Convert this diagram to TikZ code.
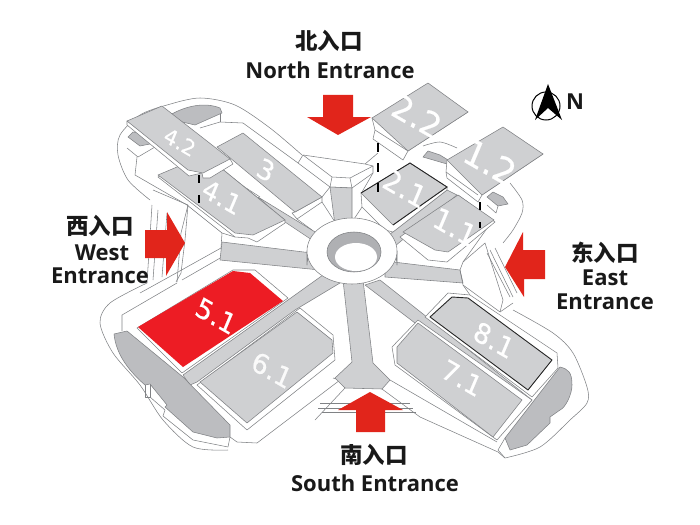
\documentclass[tikz,border=0pt]{standalone}
\usepackage{fontspec}
\setmainfont{Open Sans}
\newfontfamily\cjk{Noto Sans CJK SC}
\newfontfamily\numfont[FakeBold=0.5]{DejaVu Sans}
\definecolor{hallgray}{HTML}{CFD0D2}
\definecolor{wingray}{HTML}{BCBDC0}
\definecolor{ringray}{HTML}{AFB0B3}
\definecolor{edgegray}{HTML}{808285}
\definecolor{arrowred}{HTML}{E1251B}
\definecolor{hallred}{HTML}{ED1C24}
\tikzset{
  wall/.style    = {draw=edgegray, line width=0.55pt, line join=round},
  road/.style    = {wall, fill=hallgray},
  plinth/.style  = {wall, fill=white},
  hall/.style    = {wall, fill=hallgray},
  wing/.style    = {wall, fill=wingray},
  post/.style    = {line width=1.8pt, black},
  entry/.style   = {fill=arrowred},
  gate/.style    = {font=\cjk\bfseries\fontsize{22.5}{22.5}\selectfont, text=black!90, inner sep=0pt},
  gatename/.style= {font=\bfseries\fontsize{22}{22}\selectfont, text=black!90, inner sep=0pt},
  hallno/.style  = {font=\numfont\fontsize{#1}{#1}\selectfont, text=white, inner sep=0pt, rotate=-23, yslant=-0.12},
  hallno/.default= 28
}
\begin{document}
\begin{tikzpicture}[x=1pt,y=-1pt]
  \useasboundingbox (0,0) rectangle (700,524);
  % outer outline
  \draw[wall] plot[smooth] coordinates {(150,200) (128,180) (118,155) (120,135) (140,115) (167,105) (200,98) (235,105) (270,128) (302,155)};
  \draw[wall] plot[smooth] coordinates {(147,283) (110,303) (100,323) (113,353) (140,385) (163,420) (193,447) (228,450)};
  \draw[wall] plot[smooth] coordinates {(505,458) (540,447) (570,420) (587,403) (587,387) (573,353) (553,333) (513,310)};
  \draw[wall] plot[smooth] coordinates {(423,146) (440,142) (457,148)};
  \draw[wall] plot[smooth] coordinates {(510,183) (522,200) (522,213) (513,230) (503,243)};
  % north west side
  \draw[wall] (137,157) -- (135,175) -- (187,205) -- (222,233) -- (235,237);
  \draw[wall] (222,233) -- (221,248) -- (178,272) -- (140,293);
  \draw[wall] (127,148) -- (138,157) -- (155,147);
  \draw[wall] (200,128) -- (220,122) -- (243,123) -- (298,163);
  \draw[wall] (220,113) -- (220,122);
  \draw[wall] (153,190) -- (188,205);
  \draw[wall] (182,280) -- (222,257) -- (221,248);
  % west stripes
  \draw[wall] (152,205) -- (147,283);
  \draw[wall] (158,210) -- (153,280);
  \draw[wall] (167,213) -- (162,277);
  \draw[wall] (188,205) -- (181,233) -- (177,282);
  \draw[wall] (188,205) -- (185,240) -- (181,273) -- (176,282);
  % south west side
  \draw[wall] (177,283) -- (122,315) -- (122,331);
  \draw[wall] (145,385) -- (145,397) -- (150,397) -- (150,384);
  \draw[wall] (150,397) -- (165,410) -- (163,416) -- (193,440) -- (228,447) -- (230,437);
  \draw[wall] (230,437) -- (237,442) -- (257,443) -- (340,380) -- (333,378);
  \draw[wall] (340,380) -- (345,388);
  % north plaza
  \draw[wall] (303,155) -- (365,164) -- (373,166) -- (373,173) -- (352,188) -- (330,187) -- (298,163) -- cycle;
  \draw[wall] (303,155) -- (332,177) -- (350,178) -- (373,166);
  \draw[wall] (332,177) -- (330,187);
  \draw[wall] (350,178) -- (352,188);
  \draw[wall] (365,164) -- (378,153);
  \draw[wall] (373,173) -- (362,192);
  \draw[wall] (362,207) -- (352,222);
  \draw[wall] (330,187) -- (322,197);
  \draw[wall] (322,202) -- (335,222);
  \path[road] (330,187) -- (352,188) -- (352,225) -- (335,225) -- cycle;
  % south plaza
  \draw[wall] (320,403) -- (410,403);
  \draw[wall] (318,408) -- (413,408);
  \draw[wall] (322,412) -- (416,412);
  \draw[wall] (345,388) -- (315,420);
  \draw[wall] (382,389) -- (420,417) -- (498,452) -- (505,458);
  \draw[wall] (390,380) -- (497,442);
  \path[road] (343,280) -- (363,280) -- (373,363) -- (390,380) -- (382,389) -- (345,388) -- (335,378) -- (352,362) -- cycle;
  % east side
  \path[road] (385,261) -- (460,270) -- (463,283) -- (385,277) -- cycle;
  \draw[wall] (460,270) -- (463,262) -- (485,243) -- (503,300) -- (500,312) -- (463,285) -- (460,270);
  \draw[wall] (493,220) -- (463,262);
  \draw[wall] (487,253) -- (510,297);
  \draw[wall] (490,250) -- (513,297);
  \draw[wall] (495,248) -- (517,293);
  \draw[wall] (500,312) -- (513,303);
  \draw[wall] (463,285) -- (470,295);
  % west road and strips
  \path[road] (222,242) -- (320,254) -- (320,270) -- (220,260) -- cycle;
  \path[road] (258,197) -- (320,235) -- (315,242) -- (285,222) -- cycle;
  \draw[wall] (223,173) -- (260,197);
  \path[road] (183,375) -- (330,270) -- (345,280) -- (295,310) -- (197,382) -- (190,385) -- cycle;
  \path[road] (365,285) -- (380,280) -- (532,400) -- (523,410) -- (415,323) -- cycle;
  \path[road] (385,238) -- (447,190) -- (457,195) -- (395,246) -- cycle;
  % hall 5.1 and 6.1
  \path[plinth] (137,328) -- (182,373) -- (288,298) -- (255,270) -- (233,270) -- cycle;
  \path[fill=hallred] (138,327) -- (233,271) -- (250,273) -- (283,301) -- (183,367) -- cycle;
  \path[plinth] (197,385) -- (247,430) -- (335,360) -- (333,335) -- (300,308) -- cycle;
  \path[hall] (200,382) -- (297,312) -- (332,340) -- (333,353) -- (247,423) -- cycle;
  % hall 7.1 and 8.1
  \path[plinth] (392,347) -- (418,320) -- (532,400) -- (497,440) -- (395,365) -- cycle;
  \path[hall] (397,347) -- (418,323) -- (522,400) -- (493,437) -- (397,363) -- cycle;
  \path[plinth] (425,317) -- (448,293) -- (470,295) -- (557,353) -- (558,368) -- (532,397) -- cycle;
  \path[hall, draw=black!85, line width=0.9pt] (430,317) -- (452,297) -- (468,298) -- (552,360) -- (528,390) -- cycle;
  % wings
  \path[wing] (114,334) -- (127,331) -- (183,377) -- (230,425) -- (230,437) -- (217,438) -- (193,432) -- (165,407) -- (167,405) -- (150,384) -- (145,385) .. controls (130,372) and (116,355) .. (114,334);
  \path[wing] (560,367) .. controls (568,369) and (572,372) .. (572,385) .. controls (572,395) and (565,408) .. (560,410) -- (550,417) -- (550,423) -- (527,445) -- (510,450) -- (505,438) -- cycle;
  \draw[wall] (498,450) -- (505,438);
  \draw[wall] (498,450) -- (505,458);
  % north west bumps
  \path[wing] (165,118) .. controls (185,105) and (205,102) .. (220,108) -- (222,113) -- (195,125) -- cycle;
  \path[wing] (128,137) -- (133,132) -- (155,135) -- (155,143) -- (140,146) -- cycle;
  % hall 3
  \path[plinth] (295,212) -- (292,213) -- (297,219) -- (322,202) -- (322,197) -- cycle;
  \path[hall] (217,147) -- (243,133) -- (322,197) -- (295,212) -- cycle;
  \draw[wall] (297,219) -- (312,230);
  % hall 4.1
  \path[plinth] (158,177) -- (235,237) -- (248,238) -- (257,242) -- (285,223) -- (285,220) -- (205,155) -- cycle;
  \path[hall] (158,175) -- (177,167) -- (205,155) -- (285,220) -- (253,235) -- (235,233) -- cycle;
  % hall 4.2
  \path[plinth] (127,121) -- (127,125) -- (189,176) -- (202,173) -- (203,178) -- (210,178) -- (233,164) -- (230,159) -- cycle;
  \path[hall] (127,121) -- (162,106) -- (230,159) -- (203,173) -- (188,170) -- cycle;
  % hall 2.1 and 1.1
  \path[plinth] (361,193) -- (362,207) -- (385,230) -- (393,232) -- (447,190) -- (447,187) -- cycle;
  \path[hall] (361,193) -- (410,163) -- (447,187) -- (393,225) -- cycle;
  \draw[black!85, line width=0.9pt] (361,193) -- (410,163) -- (447,187) -- (393,225);
  \path[plinth] (400,237) -- (428,260) -- (447,262) -- (495,222) -- (458,195) -- cycle;
  \path[hall] (403,232) -- (458,195) -- (494,220) -- (448,252) -- (435,250) -- cycle;
  % bumps behind hall 1.2
  \path[wing] (423,157) -- (428,151) -- (440,155) -- (448,160) -- (447,164) -- cycle;
  \path[wing] (487,197) -- (493,192) -- (503,197) -- (508,204) -- (498,206) -- cycle;
  \draw[wall] (498,206) -- (496,213) -- (487,205);
  % hall 2.2 and 1.2
  \path[plinth] (372,118) -- (375,130) -- (373,139) -- (403,160) -- (408,151) -- (468,112) -- cycle;
  \draw[wall] (375,130) -- (408,151);
  \path[hall] (372,118) -- (428,83) -- (468,112) -- (408,151) -- cycle;
  \path[plinth] (447,160) -- (446,172) -- (447,178) -- (478,202) -- (482,195) -- (543,154) -- cycle;
  \draw[wall] (446,172) -- (478,195);
  \path[hall] (447,160) -- (503,127) -- (543,154) -- (482,195) -- cycle;
  % ring
  \path[wall, fill=ringray] (307,251) -- (307,265) arc[start angle=180, end angle=360, x radius=45, y radius=33] -- (397,251) -- cycle;
  \path[plinth] (352,251) ellipse[x radius=45, y radius=33];
  \path[wall, fill=ringray] (354,252) ellipse[x radius=27, y radius=20];
  \path[fill=white] (356,257) ellipse[x radius=21, y radius=14];
  % posts
  \foreach \ya/\yb in {175/183, 195/203} {\draw[post] (199,\ya) -- (199,\yb);}
  \foreach \ya/\yb in {143/152, 163/172, 183/192} {\draw[post] (378,\ya) -- (378,\yb);}
  \foreach \ya/\yb in {202/210, 222/228} {\draw[post] (480,\ya) -- (480,\yb);}
  % hall numbers
  \node[hallno=21] (n42) at (180,142) {4.2};
  \node[hallno=27] (n3)  at (266,170) {3};
  \node[hallno=26] (n41) at (222,197) {4.1};
  \node[hallno=33] (n22) at (417,116) {2.2};
  \node[hallno=29] (n21) at (405,188) {2.1};
  \node[hallno=35] (n12) at (490,162) {1.2};
  \node[hallno=29] (n11) at (455,227) {1.1};
  \node[hallno=27] (n51) at (216,316) {5.1};
  \node[hallno=27, text=white!90!hallgray] (n61) at (272,370) {6.1};
  \node[hallno=27] (n81) at (494,340) {8.1};
  \node[hallno=27] (n71) at (462,378) {7.1};
  % entrance arrows
  \path[entry] (323,95) -- (353,95) -- (353,117) -- (371,117) -- (338,135) -- (307,117) -- (323,117) -- cycle;
  \path[entry] (145,230) -- (167,230) -- (167,212) -- (185,243) -- (166,276) -- (166,258) -- (145,258) -- cycle;
  \path[entry] (505,267) -- (523,232) -- (523,250) -- (545,250) -- (545,279) -- (524,279) -- (524,297) -- cycle;
  \path[entry] (370,392) -- (338,410) -- (356,410) -- (356,432) -- (385,432) -- (385,410) -- (403,410) -- cycle;
  % north sign
  \draw[black, line width=1pt] (546,106) circle[radius=14];
  \path[fill=black] (548,84) -- (562,120) -- (548,108) -- (535,120) -- cycle;
  \node[gatename] (northsign) at (575,102) {N};
  % entrance labels
  \node[gate] (northcn) at (329,41) {北入口};
  \node[gatename] (northen) at (330,70) {North Entrance};
  \node[gate] (westcn) at (100,226) {西入口};
  \node[gatename] (westen) at (102,253) {West};
  \node[gatename] (westen2) at (100,276) {Entrance};
  \node[gate] (eastcn) at (605,253) {东入口};
  \node[gatename] (easten) at (605,278) {East};
  \node[gatename] (easten2) at (605,302) {Entrance};
  \node[gate] (southcn) at (374,455) {南入口};
  \node[gatename] (southen) at (375,483) {South Entrance};
\end{tikzpicture}
\end{document}
